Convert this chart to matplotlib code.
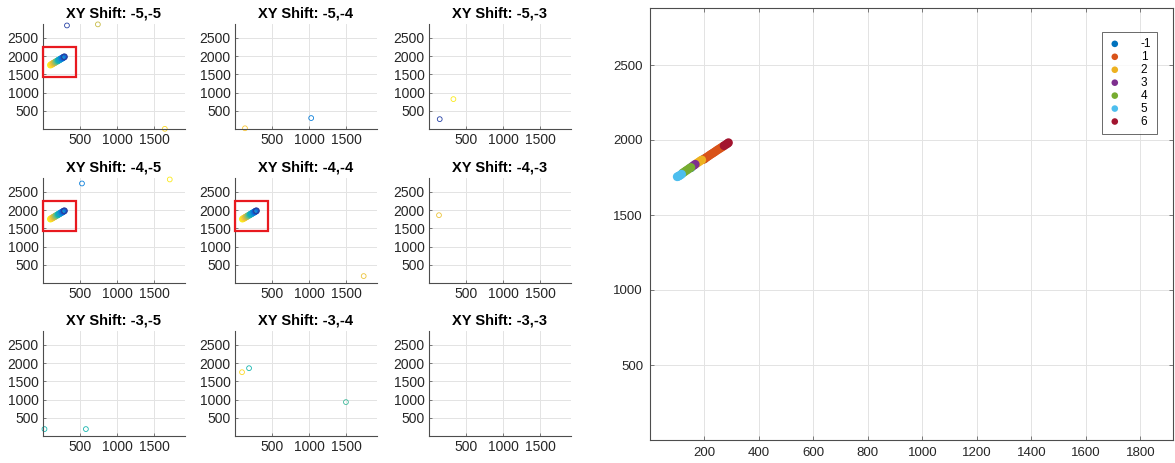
import matplotlib
matplotlib.use('Agg')
import matplotlib.pyplot as plt
from matplotlib.colors import LinearSegmentedColormap
from matplotlib.patches import Rectangle

plt.rcParams['font.family'] = ['Liberation Sans', 'DejaVu Sans']

# parula-like colormap used for the shift panels
parula = LinearSegmentedColormap.from_list('parula', [
    (0.208, 0.166, 0.529), (0.017, 0.427, 0.879), (0.078, 0.600, 0.820),
    (0.024, 0.706, 0.722), (0.443, 0.749, 0.502), (0.812, 0.733, 0.251),
    (0.996, 0.788, 0.204), (0.976, 0.984, 0.054)])

# track of detections shared by the shifted panels (x, y, colour value)
track_x = [100, 108, 116, 124, 132, 140, 148, 156, 164, 172, 180, 188,
           196, 204, 212, 220, 228, 236, 244, 252, 260, 268, 276, 284, 290]
track_y = [1752, 1762, 1771, 1781, 1791, 1800, 1810, 1820, 1829, 1839, 1848, 1858,
           1868, 1877, 1887, 1897, 1906, 1916, 1926, 1935, 1945, 1955, 1964, 1974, 1981]
track_c = [0.98, 0.95, 0.92, 0.88, 0.84, 0.80, 0.76, 0.72, 0.68, 0.64, 0.60, 0.56,
           0.52, 0.48, 0.44, 0.40, 0.36, 0.32, 0.28, 0.24, 0.20, 0.16, 0.12, 0.08, 0.04]

shift_titles = ['XY Shift: -5,-5', 'XY Shift: -5,-4', 'XY Shift: -5,-3',
                'XY Shift: -4,-5', 'XY Shift: -4,-4', 'XY Shift: -4,-3',
                'XY Shift: -3,-5', 'XY Shift: -3,-4', 'XY Shift: -3,-3']
shows_track = [True, False, False, True, True, False, False, False, False]

# scattered matches per panel: x, y, colour value
stray_x = [[324, 742, 1647], [135, 1030], [145, 330], [527, 1714], [1740],
           [135], [20, 580], [95, 190, 1500], []]
stray_y = [[2840, 2870, 5], [20, 300], [270, 820], [2730, 2840], [190],
           [1860], [190, 190], [1750, 1860, 930], []]
stray_c = [[0.05, 0.7, 0.9], [0.85, 0.2], [0.05, 0.95], [0.2, 0.95], [0.8],
           [0.8], [0.45, 0.45], [0.9, 0.45, 0.5], []]

# clustered tracks in the big panel
cluster_labels = ['-1', '1', '2', '3', '4', '5', '6']
cluster_colors = ['#0072BD', '#D95319', '#EDB120', '#7E2F8E', '#77AC30', '#4DBEEE', '#A2142F']
cluster_x = [[150, 200],
             [196, 202, 208, 214, 220, 226, 232, 238, 244, 250, 256, 262, 268],
             [172, 178, 184, 190],
             [156, 162, 166],
             [120, 126, 132, 138, 144, 150],
             [100, 104, 108, 112, 116],
             [272, 278, 284, 288]]
cluster_y = [[1815, 1875],
             [1870, 1877, 1885, 1892, 1900, 1907, 1914, 1921, 1929, 1936, 1943, 1950, 1957],
             [1845, 1852, 1860, 1867],
             [1825, 1832, 1838],
             [1780, 1787, 1795, 1802, 1810, 1817],
             [1755, 1758, 1762, 1767, 1772],
             [1962, 1969, 1976, 1982]]

grid_col = '#e3e3e3'
spine_col = '#262626'

fig = plt.figure(figsize=(11.75, 4.63), dpi=100)

col_left = [43, 235, 429]
row_bottom = [129, 283, 436]
ax_w, ax_h = 142, 105
W, H = 1175, 463

for i in range(9):
    r, c = divmod(i, 3)
    ax = fig.add_axes([col_left[c] / W, (H - row_bottom[r]) / H, ax_w / W, ax_h / H])
    if shows_track[i]:
        ax.scatter(track_x, track_y, s=16, facecolors='none',
                   edgecolors=[parula(v) for v in track_c], linewidths=0.8)
        ax.add_patch(Rectangle((0, 1420), 450, 830, fill=False, edgecolor='#e8191f',
                               linewidth=1.6, clip_on=False, zorder=5))
    if stray_x[i]:
        ax.scatter(stray_x[i], stray_y[i], s=12, facecolors='none',
                   edgecolors=[parula(v) for v in stray_c[i]], linewidths=0.6,
                   clip_on=False)
    ax.set_xlim(0, 1920)
    ax.set_ylim(0, 2880)
    ax.set_xticks([500, 1000, 1500])
    ax.set_yticks([500, 1000, 1500, 2000, 2500])
    ax.grid(True, color=grid_col, linewidth=0.7)
    ax.set_axisbelow(True)
    for side in ['top', 'right']:
        ax.spines[side].set_visible(False)
    for side in ['left', 'bottom']:
        ax.spines[side].set_color('#4d4d4d')
        ax.spines[side].set_linewidth(0.8)
    ax.tick_params(direction='in', length=2, width=0.5, colors='#4d4d4d',
                   labelcolor=spine_col, labelsize=10, pad=3)
    ax.set_title(shift_titles[i], fontsize=10.5, fontweight='bold', pad=5)

# big panel with the clustered tracks
ax = fig.add_axes([650 / W, 23 / H, 523 / W, 432 / H])
for lab, col, xs, ys in zip(cluster_labels, cluster_colors, cluster_x, cluster_y):
    ax.scatter(xs, ys, s=40, color=col, label=lab, edgecolors='none')
ax.set_xlim(0, 1920)
ax.set_ylim(0, 2880)
ax.set_xticks(range(200, 1801, 200))
ax.set_yticks([500, 1000, 1500, 2000, 2500])
ax.grid(True, color=grid_col, linewidth=0.7)
ax.set_axisbelow(True)
for side in ax.spines:
    ax.spines[side].set_color('#4d4d4d')
    ax.spines[side].set_linewidth(0.8)
ax.tick_params(direction='in', length=3, width=0.5, colors='#4d4d4d',
               labelcolor=spine_col, labelsize=9.5, pad=5, right=True, top=True)
leg = ax.legend(loc='upper right', bbox_to_anchor=(0.981, 0.958), fontsize=8.5,
                markerscale=0.75, frameon=True, fancybox=False, handletextpad=1.6,
                labelspacing=0.08, borderpad=0.5, handlelength=1.2)
leg.get_frame().set_edgecolor('#262626')
leg.get_frame().set_linewidth(0.6)

fig.savefig('out.png', dpi=100)
